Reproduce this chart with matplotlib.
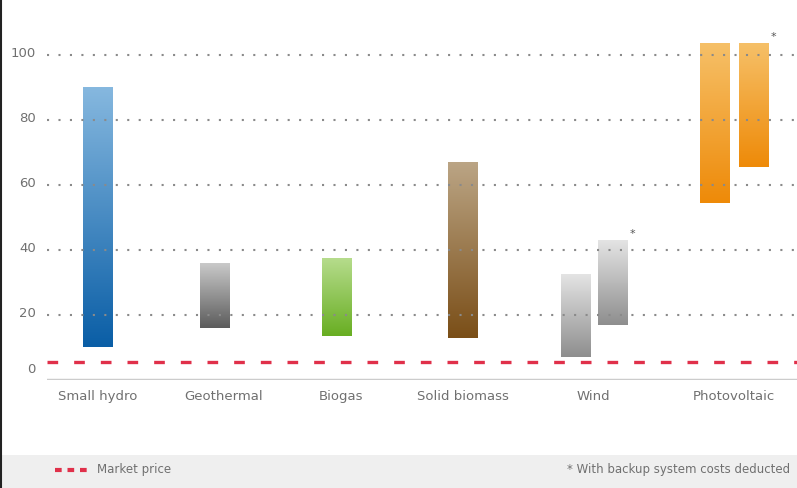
import numpy as np
import matplotlib
matplotlib.use("Agg")
import matplotlib.pyplot as plt
from matplotlib.colors import LinearSegmentedColormap
from matplotlib.transforms import ScaledTranslation
from matplotlib.lines import Line2D
from matplotlib.patches import Rectangle

# data (cost ranges, low / high)
categories = ["Small hydro", "Geothermal", "Biogas", "Solid biomass", "Wind", "Photovoltaic"]
bar_cat = [0, 1, 2, 3, 4, 4, 5, 5]
bar_low = [10, 16, 13.5, 13, 7, 17, 54.5, 65.5]
bar_high = [90, 36, 37.5, 67, 32.5, 43, 103.5, 103.5]
bar_star = [False, False, False, False, False, True, False, True]
market_price = 5.5
yticks = [0, 20, 40, 60, 80, 100]

# layout: category centres and bar offsets
cat_pos = [0, 0.99, 1.91, 2.87, 3.9, 5.0]
offsets = [0, -0.07, -0.03, 0, -0.14, 0.15, -0.15, 0.16]

# colours: (top, bottom) per bar
bar_colors = [("#86b8df", "#0a5ea6"), ("#c9c9c9", "#5c5c5c"), ("#b6dc8c", "#68ae22"),
              ("#bba585", "#7a4e17"), ("#e4e4e4", "#8e8e8e"), ("#e4e4e4", "#8e8e8e"),
              ("#f6c068", "#ee8a08"), ("#f6c068", "#ee8a08")]

fig = plt.figure(figsize=(7.97, 4.88), dpi=100)
ax = fig.add_axes([47/797, 108/488, 750/797, 357.5/488])
ax.set_xlim(-0.4, 5.5)
ax.set_ylim(0, 110)

w = 0.23
grad = np.linspace(0, 1, 256).reshape(-1, 1)
for i in range(len(bar_low)):
    x = cat_pos[bar_cat[i]] + offsets[i]
    cmap = LinearSegmentedColormap.from_list("g", [bar_colors[i][1], bar_colors[i][0]])
    ax.imshow(grad, cmap=cmap, aspect="auto", origin="lower",
              extent=[x - w/2, x + w/2, bar_low[i], bar_high[i]], zorder=2)
    if bar_star[i]:
        ax.text(x + w/2 + 0.02, bar_high[i] + 0.5, "*", color="#555555", fontsize=8,
                ha="left", va="bottom", clip_on=False, zorder=4)

# dotted grid
for t in yticks[1:]:
    ax.axhline(t, color="#8a8a8a", lw=1.5, linestyle=(0, (1, 4.5)), zorder=3)

# market price
ax.axhline(market_price, color="#e0304a", lw=2.4, linestyle=(0, (3.2, 4.8)), zorder=3)
ax.axhline(0, color="#cccccc", lw=2.5, zorder=3)

ax.set_xticks(cat_pos)
ax.set_xticklabels(categories, fontsize=9.5, color="#707070")
ax.set_yticks(yticks)
ax.set_yticklabels([str(t) for t in yticks], fontsize=9.5, color="#707070")
ax.tick_params(length=0)
ax.tick_params(axis="x", pad=7)
ax.tick_params(axis="y", pad=8)
for lab in ax.get_yticklabels():
    dy = 12 if lab.get_text() == "0" else 3
    lab.set_transform(lab.get_transform() + ScaledTranslation(0, dy/100, fig.dpi_scale_trans))
for s in ax.spines.values():
    s.set_visible(False)

# footer band
fig.patches.append(Rectangle((0, 0), 1, 33/488, transform=fig.transFigure,
                             facecolor="#efefef", edgecolor="none", zorder=0))
fig.lines.append(Line2D([55/797, 90/797], [18/488, 18/488], transform=fig.transFigure,
                        color="#e0304a", lw=3, linestyle=(0, (1.6, 1.4))))
fig.text(97/797, 18/488, "Market price", fontsize=8.5, color="#707070", va="center")
fig.text(790/797, 18/488, "* With backup system costs deducted", fontsize=8.5,
         color="#707070", va="center", ha="right")

# left border
fig.lines.append(Line2D([1/797, 1/797], [0, 1], transform=fig.transFigure, color="#222222", lw=1.5))

fig.savefig("out.png", dpi=100)
